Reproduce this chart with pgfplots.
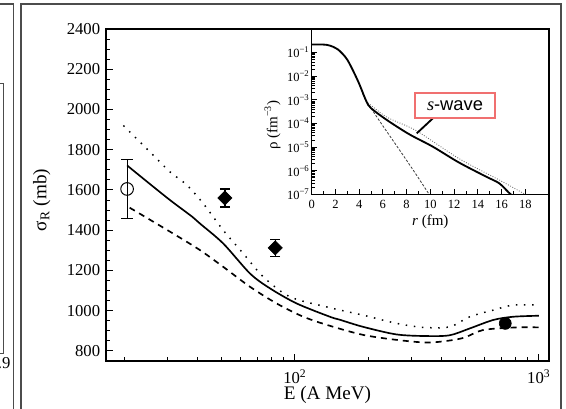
\documentclass[border=0pt]{standalone}
\usepackage{fontspec}
\setmainfont{Liberation Serif}
\newfontfamily\sansf{Liberation Sans}
\usepackage{pgfplots}
\pgfplotsset{compat=1.18}
\definecolor{boxred}{HTML}{F07070}
\begin{document}
\begin{tikzpicture}
\useasboundingbox (0,0) rectangle (339.6pt,244.8pt);
% panel frames
\draw[black!70, line width=0.9pt] (12.6pt,-2pt) -- (12.6pt,242.4pt) -- (336.6pt,242.4pt) -- (336.6pt,-2pt);
\draw[black!70, line width=0.9pt] (-2pt,242.4pt) -- (8pt,242.4pt) -- (8pt,-2pt);
\draw[black!70, line width=0.6pt] (-2pt,195pt) -- (1.8pt,195pt) -- (1.8pt,33pt) -- (-2pt,33pt);
\node[anchor=east, font=\fontsize{10}{12}\selectfont, inner sep=0pt] at (6.5pt,27pt) {.9};

\begin{axis}[
  at={(63.6pt,28.2pt)}, anchor=south west,
  width=265.8pt, height=199.2pt, scale only axis,
  xmode=log, xmin=16.8, xmax=1100, ymin=750, ymax=2400,
  xtick={100,1000}, xticklabels={10\textsuperscript{2},10\textsuperscript{3}},
  minor xtick={20,30,40,50,60,70,80,90,200,300,400,500,600,700,800,900},
  ytick={800,1000,...,2400}, minor y tick num=3,
  xtick pos=left, ytick pos=left,
  tick style={black, line width=0.6pt}, major tick length=4pt, minor tick length=2.5pt,
  /pgf/number format/assume math mode=true, /pgf/number format/1000 sep={},
  tick label style={font=\fontsize{10}{12}\selectfont},
  xticklabel style={yshift=-1.5pt},
  xlabel={E (A MeV)}, ylabel={σ\textsubscript{R} (mb)},
  label style={font=\fontsize{11.5}{13}\selectfont},
  xlabel style={at={(axis description cs:0.5,-0.102)}, anchor=center},
  ylabel style={at={(axis description cs:-0.145,0.485)}, anchor=center},
  axis line style={line width=0.7pt},
]
% dotted
\addplot[black, line width=0.9pt, dash pattern=on 0.9pt off 4pt, smooth, tension=0.5] coordinates {
(19.8,1920) (25.5,1788) (30.8,1689) (36,1625) (42.1,1532) (50.8,1400) (61.4,1284)
(74.2,1168) (95.4,1069) (139,1015) (190,978) (261,937) (336,917) (431,920)
(521,970) (650,1003) (785,1028) (1000,1028)};
% solid
\addplot[black, line width=1pt, smooth, tension=0.5] coordinates {
(20.5,1722) (25,1637) (30.8,1549) (38,1466) (40.8,1433) (50.8,1334) (65.4,1185)
(79,1111) (101.6,1036) (139,970) (152.8,955) (190,920) (261,882) (348,874)
(431,878) (521,912) (650,954) (785,970) (1000,975)};
% dashed
\addplot[black, line width=1pt, dash pattern=on 3.6pt off 3pt, smooth, tension=0.5] coordinates {
(21,1512) (31.7,1383) (40.8,1301) (50.8,1218) (65.4,1119) (84.1,1036) (108.2,970)
(139,925) (190,880) (261,855) (357,842) (484,863) (590,904) (809,917) (1000,917)};
% open circle
\addplot[black, only marks, mark=o, mark size=3.8pt, mark options={line width=0.6pt},
  error bars/.cd, y dir=both, y explicit, error bar style={line width=0.6pt},
  error mark options={rotate=90, mark size=3.5pt, line width=0.6pt}]
  coordinates {(20.5,1605) +- (0,146)};
% diamonds
\addplot[black, only marks, mark=square*, mark size=3pt, mark options={rotate=45},
  error bars/.cd, y dir=both, y explicit, error bar style={line width=0.8pt},
  error mark options={rotate=90, mark size=3pt, line width=0.8pt}]
  coordinates {(51.6,1560) +- (0,45) (83,1312) +- (0,42)};
% filled circle
\addplot[black, only marks, mark=*, mark size=3.6pt] coordinates {(728,937)};
\end{axis}

\begin{axis}[
  at={(187pt,128.2pt)}, anchor=south west,
  width=142.4pt, height=99.2pt, scale only axis,
  xmin=0, xmax=20, ymode=log, ymin=1e-7, ymax=1,
  xtick={0,2,...,18}, minor x tick num=1,
  ytick={1e-7,1e-6,1e-5,1e-4,1e-3,1e-2,1e-1},
  yticklabels={10\textsuperscript{−7},10\textsuperscript{−6},10\textsuperscript{−5},10\textsuperscript{−4},10\textsuperscript{−3},10\textsuperscript{−2},10\textsuperscript{−1}},
  axis background/.style={fill=white},
  xtick pos=left, ytick pos=left,
  tick style={black, line width=0.5pt}, major tick length=3pt, minor tick length=1.8pt,
  /pgf/number format/assume math mode=true,
  tick label style={font=\fontsize{7.5}{9}\selectfont},
  yticklabel style={inner sep=1pt},
  xlabel={\textit{r} (fm)}, ylabel={ρ (fm\textsuperscript{−3})},
  label style={font=\fontsize{9}{11}\selectfont},
  xlabel style={at={(axis description cs:0.5,-0.168)}, anchor=center},
  ylabel style={at={(axis description cs:-0.165,0.42)}, anchor=center},
  axis line style={line width=0.7pt},
]
% upper dotted tail
\addplot[black!60, line width=0.5pt, densely dotted, smooth] coordinates {
(4.6,8.7e-4) (6.3,1.9e-4) (8.8,5.0e-5) (12.4,3.3e-6) (15.8,4.07e-7) (18,1e-7)};
% steep dashed (core)
\addplot[black!75, line width=0.5pt, dash pattern=on 1.5pt off 1pt] coordinates {
(4.3,1.8e-3) (4.6,8.7e-4) (6,7.94e-5) (7.4,7.6e-6) (8.7,8.3e-7) (9.9,1e-7)};
% solid
\addplot[black, line width=1.1pt, smooth, tension=0.5] coordinates {
(0,0.219) (1.0,0.219) (1.5,0.2) (2.2,0.138) (3.0,0.0501) (3.9,0.00631) (4.6,8.91e-4)
(5.0,4.47e-4) (6.3,1.445e-4) (8.2,3.55e-5) (10.2,1.047e-5) (12.4,2.24e-6)
(14.7,5.62e-7) (15.8,2.95e-7) (16.6,1.2e-7) (16.8,1e-7)};
\draw[black, line width=1.1pt] (axis cs:10.67,2.7e-4) -- (axis cs:8.85,3.8e-5);
\node[draw=boxred, line width=1pt, fill=white, minimum width=48pt, minimum height=15pt,
  inner sep=1pt, font=\sansf\fontsize{11}{13}\selectfont]
  at (axis cs:12.08,5.7e-4) {{\rmfamily\itshape s}-wave};
\end{axis}
\end{tikzpicture}
\end{document}
